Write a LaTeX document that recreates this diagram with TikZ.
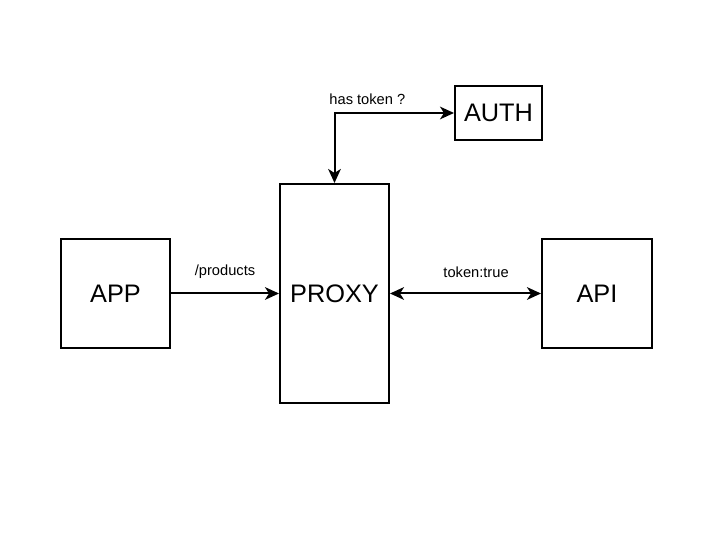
\documentclass[tikz,border=0pt]{standalone}
\usepackage{fontspec}
\setmainfont{Liberation Sans}
\usetikzlibrary{arrows.meta}
\tikzset{
	block/.style={draw, line width=1.5pt, inner sep=0pt, font=\fontsize{19}{22}\selectfont},
	head/.tip={Stealth[length=10.5pt, width=9.5pt, inset=3pt]},
	link/.style={line width=1.5pt, -head},
	linklabel/.style={inner sep=0pt, font=\fontsize{11}{13}\selectfont}
}
\begin{document}
\begin{tikzpicture}[x=0.75pt, y=0.75pt]
			%%%%% START %%%%%
			\useasboundingbox (0, 0) rectangle (715, 555);
			
			\node[block, minimum width=81.75pt, minimum height=81.75pt] (app) at (115.5, 261.5) {APP};
			\node[block, minimum width=81.75pt, minimum height=164.25pt] (proxy) at (334.5, 261.5) {PROXY};
			\node[block, minimum width=82.5pt, minimum height=81.75pt] (api) at (597, 261.5) {API};
			\node[block, minimum width=65.25pt, minimum height=40.5pt] (auth) at (498.5, 442) {AUTH};
			
			\draw[link] (app) -- node[linklabel, midway, yshift=16.5pt] {/products} (proxy);
			\draw[link, head-head] (proxy) -- node[linklabel, pos=0.57, yshift=16pt] {token:true} (api);
			\draw[link, head-head] (proxy.north) |- node[linklabel, pos=0.6375, yshift=10.5pt] {has token ?} (auth.west);
			%%%%% END %%%%%
		\end{tikzpicture}
\end{document}
